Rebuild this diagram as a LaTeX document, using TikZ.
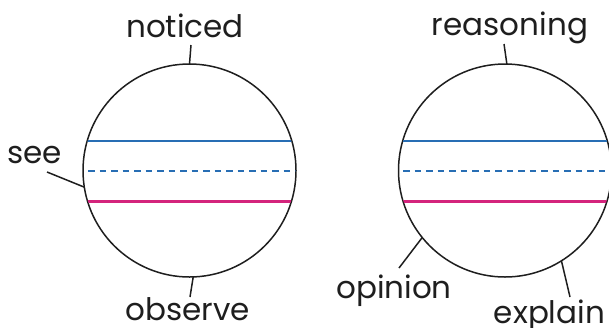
\documentclass[tikz,border=0pt]{standalone}
\usepackage{fontspec}
\setmainfont{Poppins}
\definecolor{lineblue}{RGB}{40,110,180}
\definecolor{linemag}{RGB}{212,36,124}
\definecolor{ink}{RGB}{30,30,30}
\begin{document}
\begin{tikzpicture}[x=1pt,y=-1pt,
  ball/.style={circle,draw=ink,line width=1.5pt,minimum size=213pt,inner sep=0pt,outer sep=0pt},
  word/.style={anchor=base,font=\fontsize{31}{33}\selectfont,text=ink,inner sep=0pt},
  tick/.style={draw=ink,line width=1.5pt},
  bluesolid/.style={draw=lineblue,line width=2.2pt},
  bluedash/.style={draw=lineblue,line width=2.2pt,dash pattern=on 6.5pt off 5pt},
  magsolid/.style={draw=linemag,line width=2.2pt}]
\useasboundingbox (0,0) rectangle (609,327);
% circles
\node[ball] (L) at (189.5,170.5) {};
\node[ball] (R) at (505,170.5) {};
% chords
\begin{scope}
\clip (L.center) circle[radius=106pt];
\draw[bluesolid] (70,141) -- (310,141);
\draw[bluedash] (88,171) -- (310,171);
\draw[magsolid] (70,201.5) -- (310,201.5);
\end{scope}
\begin{scope}
\clip (R.center) circle[radius=106pt];
\draw[bluesolid] (390,141) -- (640,141);
\draw[bluedash] (403,171) -- (640,171);
\draw[magsolid] (390,201.5) -- (640,201.5);
\end{scope}
% words
\node[word] (noticed) at (185,37) {noticed};
\node[word] (see) at (34.5,163) {see};
\node[word] (observe) at (187.5,320) {observe};
\node[word] (reasoning) at (510,35) {reasoning};
\node[word] (opinion) at (394,298) {opinion};
\node[word] (explain) at (549.5,323) {explain};
% tick ends
\coordinate (tn) at (191,45);
\coordinate (ts) at (47,172);
\coordinate (to) at (190,297);
\coordinate (tr) at (504,44);
\coordinate (tp) at (399,268);
\coordinate (te) at (570,297);
\draw[tick] (tn) -- (L.90);
\draw[tick] (ts) -- (L.189);
\draw[tick] (to) -- (L.272);
\draw[tick] (tr) -- (R.89);
\draw[tick] (tp) -- (R.219);
\draw[tick] (te) -- (R.302);
\end{tikzpicture}
\end{document}
